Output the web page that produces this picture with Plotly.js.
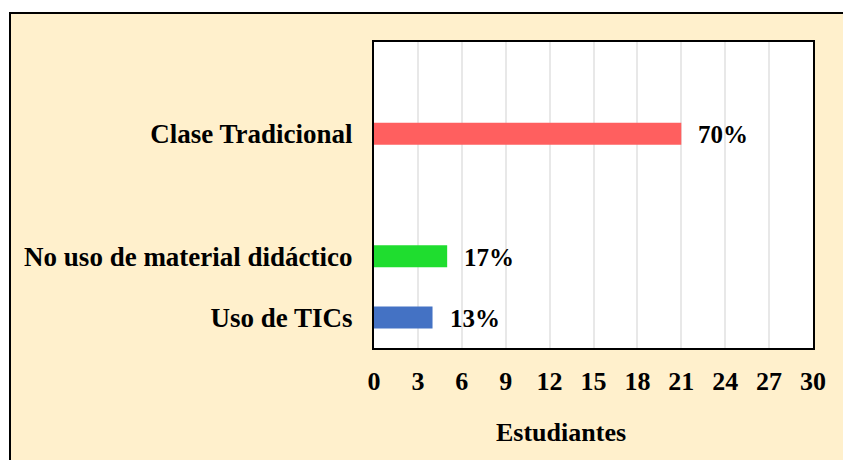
<!DOCTYPE html>
<html>
<head>
<meta charset="utf-8">
<script src="https://cdn.plot.ly/plotly-3.0.1.min.js"></script>
<style>
  html, body { margin: 0; padding: 0; background: #ffffff; width: 843px; height: 460px; overflow: hidden; }
  #frame { position: absolute; left: 9px; top: 12px; width: 832px; height: 446px;
           border-left: 2px solid #000; border-top: 2px solid #000; background: #FFF0CC; }
  #chart { width: 832px; height: 446px; }
</style>
</head>
<body>
<div id="frame"><div id="chart"></div></div>
<script>
// Data
var categories = ["Clase Tradicional", "No uso de material didáctico", "Uso de TICs"];
var values = [21, 5, 4];
var percentLabels = ["70%", "17%", "13%"];
var barColors = ["#FF5F5F", "#1FDD2F", "#4472C4"];
// axis slot order (bottom to top), blanks are empty slots
var categoryOrder = ["Uso de TICs", "No uso de material didáctico", " ", "Clase Tradicional", "  "];
var xTickValues = [0, 3, 6, 9, 12, 15, 18, 21, 24, 27, 30];
var xAxisTitle = "Estudiantes";

var FONT = "'Times New Roman', 'Liberation Serif', serif";

var trace = {
  type: "bar",
  orientation: "h",
  x: values,
  y: categories,
  marker: { color: barColors, line: { width: 0 } },
  width: 0.36,
  hoverinfo: "none",
  showlegend: false
};

var annotations = categories.map(function (c, i) {
  return {
    x: values[i], y: c, xref: "x", yref: "y",
    text: percentLabels[i], showarrow: false,
    xanchor: "left", yanchor: "middle", xshift: 15, yshift: -1,
    font: { family: FONT, size: 25, color: "#000", weight: "bold" }
  };
});
annotations.push({
  x: 0.426, y: 0, xref: "paper", yref: "paper",
  text: xAxisTitle, showarrow: false,
  xanchor: "center", yanchor: "middle", yshift: -84,
  font: { family: FONT, size: 26, color: "#000", weight: "bold" }
});

var layout = {
  width: 832, height: 446,
  margin: { l: 363, r: 30, t: 28, b: 112, pad: 0 },
  paper_bgcolor: "#FFF0CC",
  plot_bgcolor: "#FFFFFF",
  font: { family: FONT, size: 26, color: "#000", weight: "bold" },
  xaxis: {
    range: [0, 30],
    tickvals: xTickValues,
    ticks: "",
    ticklabelstandoff: 9,
    showgrid: true, gridcolor: "#E8E8E8", gridwidth: 2,
    zeroline: false,
    showline: true, linecolor: "#000", linewidth: 2, mirror: true,
    tickfont: { family: FONT, size: 26, color: "#000", weight: "bold" },
    fixedrange: true
  },
  yaxis: {
    type: "category",
    categoryorder: "array",
    categoryarray: categoryOrder,
    range: [-0.5, 4.5],
    ticks: "",
    ticklabelstandoff: 14,
    showgrid: false,
    zeroline: false,
    showline: true, linecolor: "#000", linewidth: 2, mirror: true,
    tickfont: { family: FONT, size: 27, color: "#000", weight: "bold" },
    fixedrange: true
  },
  annotations: annotations,
  bargap: 0.64
};

Plotly.newPlot("chart", [trace], layout, { staticPlot: true, displayModeBar: false });
</script>
</body>
</html>
